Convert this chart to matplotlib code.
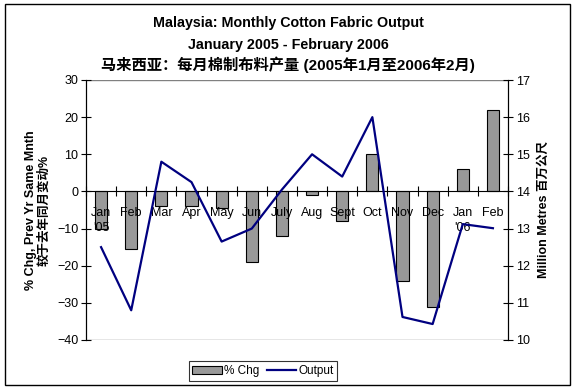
import matplotlib
matplotlib.use("Agg")
import matplotlib.pyplot as plt
from matplotlib.patches import Rectangle
import numpy as np

months = ["Jan\n'05", "Feb", "Mar", "Apr", "May", "Jun", "July", "Aug", "Sept",
          "Oct", "Nov", "Dec", "Jan\n'06", "Feb"]
pct_chg = [-10, -15.5, -4, -4, -4.5, -19, -12, -1, -8, 10, -24, -31, 6, 22]
output = [12.5, 10.8, 14.8, 14.25, 12.65, 13.0, 14.05, 15.0, 14.4, 16.0,
          10.62, 10.43, 13.12, 13.01]

plt.rcParams['font.family'] = ['Liberation Sans', 'Noto Sans CJK SC', 'DejaVu Sans']

fig = plt.figure(figsize=(5.76, 3.9), dpi=100)
ax = fig.add_axes([86/576, 1-340/390, (508-86)/576, 260/390])
ax2 = ax.twinx()

x = np.arange(len(months))
ax.bar(x, pct_chg, width=0.4, color='#999999', edgecolor='black', linewidth=0.8,
       label='% Chg', zorder=2)
ax.set_axisbelow(False)
ax.set_xlim(-0.5, len(months)-0.5)
ax.set_ylim(-40, 30)
ax.set_yticks(np.arange(-40, 31, 10))
ax.axhline(30, color='#808080', lw=1, zorder=1)
ax.axhline(-40, color='#808080', lw=1, zorder=1)

for s in ['top', 'bottom']:
    ax.spines[s].set_visible(False)
    ax2.spines[s].set_visible(False)
ax.spines['bottom'].set_visible(True)
ax.spines['bottom'].set_position(('data', 0))
ax.spines['bottom'].set_zorder(3)

ax.set_xticks(np.arange(-0.5, len(months), 1))
ax.set_xticklabels([])
ax.tick_params(axis='x', which='major', direction='inout', length=7, width=0.8)
ax.set_xticks(x, minor=True)
ax.set_xticklabels(months, minor=True, fontsize=9, linespacing=1.4)
ax.tick_params(axis='x', which='minor', length=0, pad=11)
ax.tick_params(axis='y', direction='inout', length=7, width=0.8, labelsize=9, pad=2)

ln, = ax2.plot(x, output, color='#000080', lw=1.6, label='Output', zorder=4)
ax2.set_ylim(10, 17)
ax2.set_yticks(np.arange(10, 18, 1))
ax2.tick_params(axis='y', direction='inout', length=7, width=0.8, labelsize=9, pad=2)

ax.set_ylabel("% Chg, Prev Yr Same Mnth\n较于去年同月变动%", fontsize=9,
              fontweight='bold', linespacing=1.15, labelpad=5)
ax2.set_ylabel("Million Metres 百万公尺", fontsize=9, fontweight='bold', labelpad=6)

fig.text(0.5, 1-23/390, "Malaysia: Monthly Cotton Fabric Output", ha='center',
         va='center', fontsize=10.3, fontweight='bold')
fig.text(0.5, 1-45/390, "January 2005 - February 2006", ha='center',
         va='center', fontsize=10.3, fontweight='bold')
fig.text(0.5, 1-65/390, "马来西亚：每月棉制布料产量 (2005年1月至2006年2月)", ha='center',
         va='center', fontsize=11, fontweight='bold')

h1, l1 = ax.get_legend_handles_labels()
leg = fig.legend(h1 + [ln], l1 + ['Output'], loc='center', ncol=2,
                 bbox_to_anchor=(263/576, 1-371/390), fontsize=8.5, frameon=True,
                 fancybox=False, edgecolor='black', handlelength=2.5,
                 handleheight=0.7, columnspacing=0.6, handletextpad=0.2,
                 borderpad=0.3, borderaxespad=0)
leg.get_frame().set_linewidth(0.8)

fig.patches.append(Rectangle((5/576, 1-385/390), 565/576, 381/390, transform=fig.transFigure,
                             fill=False, edgecolor='black', lw=1))

fig.savefig("out.png", dpi=100)
